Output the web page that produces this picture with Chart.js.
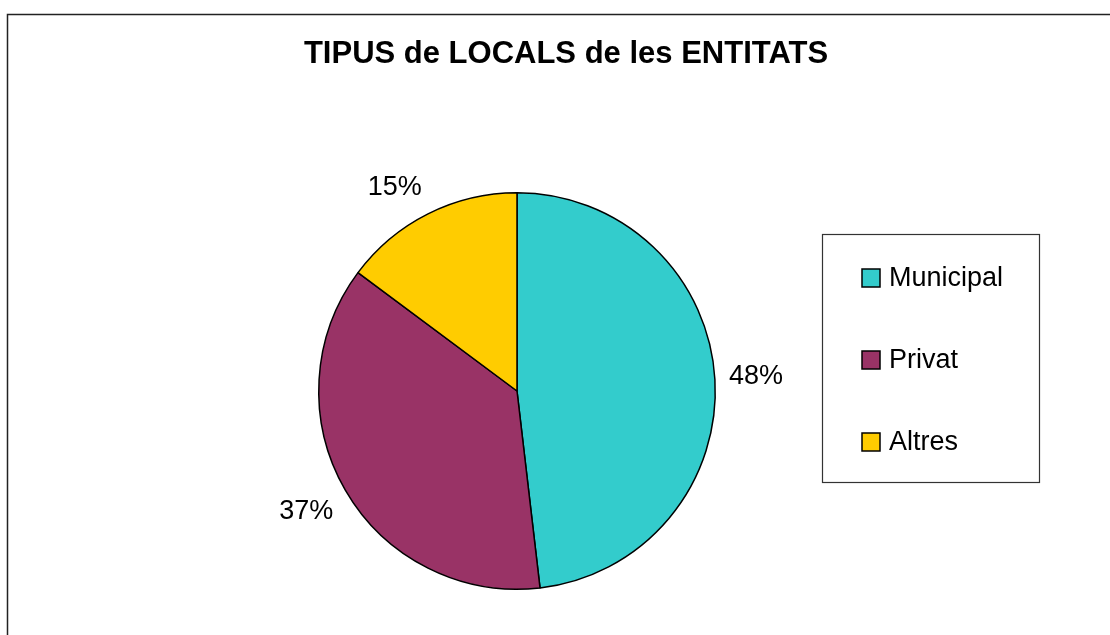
<!DOCTYPE html>
<html>
<head>
<meta charset="utf-8">
<script src="https://cdn.jsdelivr.net/npm/chart.js@4/dist/chart.umd.min.js"></script>
<style>
  html, body { margin: 0; padding: 0; background: #fff; }
  #wrap { position: relative; width: 1110px; height: 635px; overflow: hidden; }
</style>
</head>
<body>
<div id="wrap"><canvas id="chart" width="1110" height="635"></canvas></div>
<script>
// data (13 / 10 / 4 entitats -> 48% / 37% / 15%)
var categories = ['Municipal', 'Privat', 'Altres'];
var counts = [13, 10, 4];
var colors = ['#33CCCC', '#993366', '#FFCC00'];
var titleText = 'TIPUS de LOCALS de les ENTITATS';

var FONT = '"Liberation Sans", Arial, sans-serif';

// frame around the whole chart + title (title sits centred on the whole frame, not the pie)
var framePlugin = {
  id: 'frame',
  beforeDraw: function (chart) {
    var ctx = chart.ctx;
    ctx.save();
    ctx.fillStyle = '#fff';
    ctx.fillRect(0, 0, chart.width, chart.height);
    ctx.strokeStyle = '#222';
    ctx.lineWidth = 1.5;
    ctx.strokeRect(7.5, 14.5, chart.width + 20, chart.height + 20);
    ctx.font = 'bold 31px ' + FONT;
    ctx.fillStyle = '#000';
    ctx.textAlign = 'center';
    ctx.textBaseline = 'middle';
    ctx.fillText(titleText, 566, 54);
    ctx.restore();
  }
};

// percentage labels outside the slices
var pctLabels = {
  id: 'pctLabels',
  afterDatasetsDraw: function (chart) {
    var ctx = chart.ctx;
    var meta = chart.getDatasetMeta(0);
    var total = counts.reduce(function (a, b) { return a + b; }, 0);
    ctx.save();
    ctx.font = '27px ' + FONT;
    ctx.fillStyle = '#000';
    ctx.textAlign = 'center';
    ctx.textBaseline = 'middle';
    meta.data.forEach(function (arc, i) {
      var p = arc.getProps(['x', 'y', 'startAngle', 'endAngle', 'outerRadius'], true);
      var mid = (p.startAngle + p.endAngle) / 2;
      var dx = Math.cos(mid), dy = Math.sin(mid);
      var txt = Math.round(counts[i] / total * 100) + '%';
      var hw = ctx.measureText(txt).width / 2;
      var r = p.outerRadius + 14;
      var x = p.x + r * dx + hw * Math.sign(dx);
      var y = p.y + r * dy + 14 * Math.max(-1, Math.min(1, 2 * dy));
      ctx.fillText(txt, x, y);
    });
    ctx.restore();
  }
};

// boxed legend on the right
var boxLegend = {
  id: 'boxLegend',
  afterDraw: function (chart) {
    var ctx = chart.ctx;
    var left = 822.5, top = 234.5, w = 217, h = 248;
    ctx.save();
    ctx.strokeStyle = '#333';
    ctx.lineWidth = 1.2;
    ctx.strokeRect(left, top, w, h);
    ctx.font = '27px ' + FONT;
    ctx.textBaseline = 'middle';
    var ds = chart.data.datasets[0];
    chart.data.labels.forEach(function (lab, i) {
      var cy = top + 43.5 + i * 82;
      ctx.fillStyle = ds.backgroundColor[i];
      ctx.fillRect(862, cy - 9, 18, 18);
      ctx.strokeStyle = '#000';
      ctx.lineWidth = 1.5;
      ctx.strokeRect(862, cy - 9, 18, 18);
      ctx.fillStyle = '#000';
      ctx.fillText(lab, 889, cy + 1);
    });
    ctx.restore();
  }
};

new Chart(document.getElementById('chart'), {
  type: 'pie',
  data: {
    labels: categories,
    datasets: [{
      data: counts,
      backgroundColor: colors,
      borderColor: '#000',
      borderWidth: 1.5
    }]
  },
  options: {
    responsive: false,
    animation: false,
    layout: { padding: { top: 192, bottom: 45, left: 318, right: 394 } },
    plugins: {
      legend: { display: false },
      tooltip: { enabled: false },
      title: { display: false }
    }
  },
  plugins: [framePlugin, pctLabels, boxLegend]
});
</script>
</body>
</html>
